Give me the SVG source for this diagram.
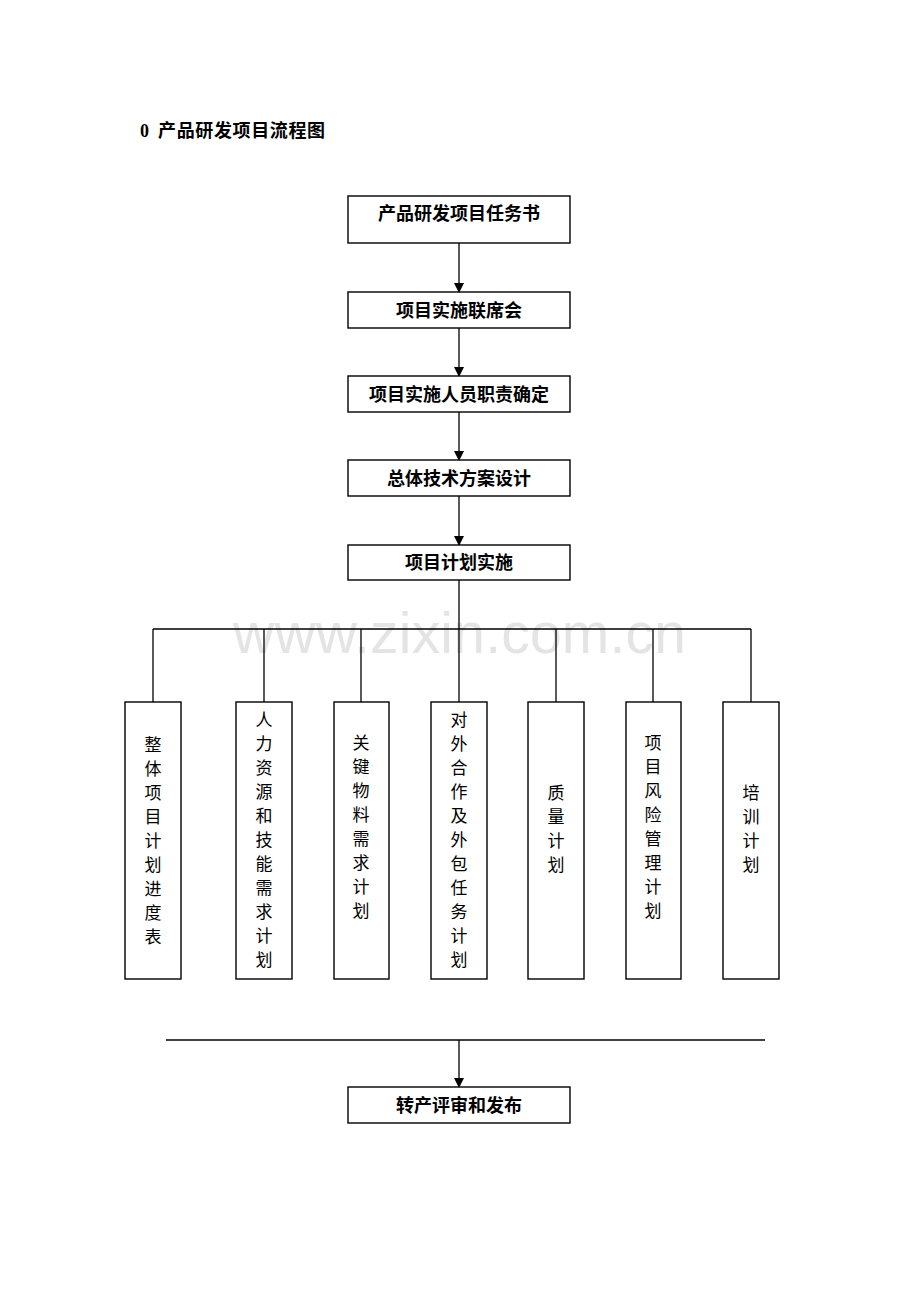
<svg xmlns="http://www.w3.org/2000/svg" width="920" height="1302" viewBox="0 0 920 1302">
<style>
.box{fill:#fff;stroke:#000;stroke-width:1.4}
.ln{fill:none;stroke:#000;stroke-width:1.3}
.t{font-family:"Liberation Serif","Noto Sans CJK SC",serif;font-size:18px;font-weight:bold;fill:#000;text-anchor:middle}
.v{font-family:"Noto Sans CJK SC",sans-serif;font-size:17px;fill:#000;text-anchor:middle}
.wm{font-family:"Liberation Sans",sans-serif;font-size:57px;fill:#e4e4e4}
</style>
<defs>
<marker id="ah" markerWidth="10" markerHeight="12" refX="9" refY="5" orient="auto" markerUnits="userSpaceOnUse">
<path d="M0,0 L10,5 L0,10 z" fill="#000"/>
</marker>
</defs>
<rect width="920" height="1302" fill="#fff"/>
<text class="wm" x="233" y="653" textLength="453">www.zixin.com.cn</text>
<text id="title" class="t" y="137" style="text-anchor:start"><tspan x="140">0</tspan><tspan x="158" textLength="167">产品研发项目流程图</tspan></text>
<g id="connectors">
<line class="ln" x1="459" y1="243" x2="459" y2="292" marker-end="url(#ah)"/>
<line class="ln" x1="459" y1="328" x2="459" y2="376" marker-end="url(#ah)"/>
<line class="ln" x1="459" y1="412" x2="459" y2="460" marker-end="url(#ah)"/>
<line class="ln" x1="459" y1="496" x2="459" y2="545" marker-end="url(#ah)"/>
<line class="ln" x1="459" y1="580" x2="459" y2="702"/>
<line class="ln" x1="153" y1="629" x2="751" y2="629"/>
<line class="ln" x1="153" y1="629" x2="153" y2="702"/>
<line class="ln" x1="264" y1="629" x2="264" y2="702"/>
<line class="ln" x1="361" y1="629" x2="361" y2="702"/>
<line class="ln" x1="556" y1="629" x2="556" y2="702"/>
<line class="ln" x1="653" y1="629" x2="653" y2="702"/>
<line class="ln" x1="751" y1="629" x2="751" y2="702"/>
<line class="ln" x1="166" y1="1040" x2="765" y2="1040"/>
<line class="ln" x1="459" y1="1040" x2="459" y2="1087" marker-end="url(#ah)"/>
</g>
<g id="n1"><rect class="box" x="348" y="196" width="222" height="47"/><text class="t" x="459" y="220">产品研发项目任务书</text></g>
<g id="n2"><rect class="box" x="348" y="292" width="222" height="36"/><text class="t" x="459" y="317">项目实施联席会</text></g>
<g id="n3"><rect class="box" x="348" y="376" width="222" height="36"/><text class="t" x="459" y="401">项目实施人员职责确定</text></g>
<g id="n4"><rect class="box" x="348" y="460" width="222" height="36"/><text class="t" x="459" y="485">总体技术方案设计</text></g>
<g id="n5"><rect class="box" x="348" y="545" width="222" height="35"/><text class="t" x="459" y="569">项目计划实施</text></g>
<g id="p1"><rect class="box" x="125" y="702" width="56" height="277"/>
<text class="v"><tspan x="153" y="751">整</tspan><tspan x="153" dy="24">体</tspan><tspan x="153" dy="24">项</tspan><tspan x="153" dy="24">目</tspan><tspan x="153" dy="24">计</tspan><tspan x="153" dy="24">划</tspan><tspan x="153" dy="24">进</tspan><tspan x="153" dy="24">度</tspan><tspan x="153" dy="24">表</tspan></text></g>
<g id="p2"><rect class="box" x="236" y="702" width="56" height="277"/>
<text class="v"><tspan x="264" y="726">人</tspan><tspan x="264" dy="24">力</tspan><tspan x="264" dy="24">资</tspan><tspan x="264" dy="24">源</tspan><tspan x="264" dy="24">和</tspan><tspan x="264" dy="24">技</tspan><tspan x="264" dy="24">能</tspan><tspan x="264" dy="24">需</tspan><tspan x="264" dy="24">求</tspan><tspan x="264" dy="24">计</tspan><tspan x="264" dy="24">划</tspan></text></g>
<g id="p3"><rect class="box" x="334" y="702" width="55" height="277"/>
<text class="v"><tspan x="361" y="749">关</tspan><tspan x="361" dy="24">键</tspan><tspan x="361" dy="24">物</tspan><tspan x="361" dy="24">料</tspan><tspan x="361" dy="24">需</tspan><tspan x="361" dy="24">求</tspan><tspan x="361" dy="24">计</tspan><tspan x="361" dy="24">划</tspan></text></g>
<g id="p4"><rect class="box" x="431" y="702" width="56" height="277"/>
<text class="v"><tspan x="459" y="726">对</tspan><tspan x="459" dy="24">外</tspan><tspan x="459" dy="24">合</tspan><tspan x="459" dy="24">作</tspan><tspan x="459" dy="24">及</tspan><tspan x="459" dy="24">外</tspan><tspan x="459" dy="24">包</tspan><tspan x="459" dy="24">任</tspan><tspan x="459" dy="24">务</tspan><tspan x="459" dy="24">计</tspan><tspan x="459" dy="24">划</tspan></text></g>
<g id="p5"><rect class="box" x="528" y="702" width="56" height="277"/>
<text class="v"><tspan x="556" y="799">质</tspan><tspan x="556" dy="24">量</tspan><tspan x="556" dy="24">计</tspan><tspan x="556" dy="24">划</tspan></text></g>
<g id="p6"><rect class="box" x="626" y="702" width="55" height="277"/>
<text class="v"><tspan x="653" y="749">项</tspan><tspan x="653" dy="24">目</tspan><tspan x="653" dy="24">风</tspan><tspan x="653" dy="24">险</tspan><tspan x="653" dy="24">管</tspan><tspan x="653" dy="24">理</tspan><tspan x="653" dy="24">计</tspan><tspan x="653" dy="24">划</tspan></text></g>
<g id="p7"><rect class="box" x="723" y="702" width="56" height="277"/>
<text class="v"><tspan x="751" y="799">培</tspan><tspan x="751" dy="24">训</tspan><tspan x="751" dy="24">计</tspan><tspan x="751" dy="24">划</tspan></text></g>
<g id="n6"><rect class="box" x="348" y="1087" width="222" height="36"/><text class="t" x="459" y="1112">转产评审和发布</text></g>
</svg>
